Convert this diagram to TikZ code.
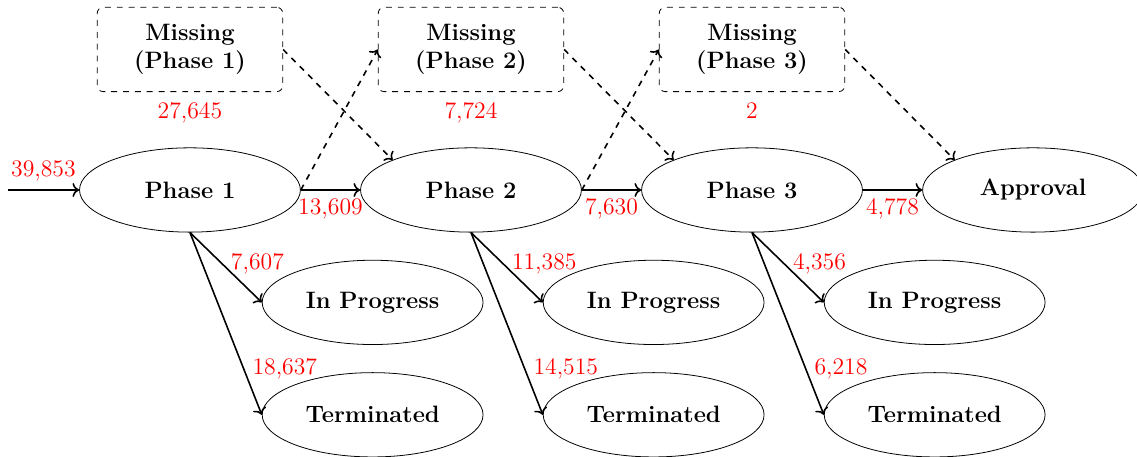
\documentclass[tikz,border=0pt,12pt]{standalone}
\usepackage{amsmath, amssymb}
\usetikzlibrary{arrows.meta, positioning, shapes}

\begin{document}
\begin{tikzpicture}[node distance=5cm,
    phase/.style={ellipse, draw, minimum width=3.93cm, minimum height=1.5cm, font=\bfseries},
    missing/.style={rectangle, draw, dashed, rounded corners=3pt, minimum width=3.3cm, minimum height=1.5cm, align=center, font=\bfseries},
    num/.style={text=red}]

    \useasboundingbox (-3.38,-4.75) rectangle (16.85,3.38);

    % Nodes representing the phases of the trials
    \node (p1) [phase] {Phase 1};
    \node (p2) [phase, right of=p1] {Phase 2};
    \node (p3) [phase, right of=p2] {Phase 3};
    \node (appr) [phase, right of=p3] {Approval};

    % Nodes representing trials with missing data
    \node (m1) [missing, above of=p1, node distance=2.5cm, label={[num, label distance=1pt]below:{27,645}}] {Missing\\(Phase 1)};
    \node (m2) [missing, above of=p2, node distance=2.5cm, label={[num, label distance=1pt]below:{7,724}}] {Missing\\(Phase 2)};
    \node (m3) [missing, above of=p3, node distance=2.5cm, label={[num, label distance=1pt]below:{2}}] {Missing\\(Phase 3)};

    % Nodes representing the outcome of each phase
    \node (ip1) [phase, below of=p1, node distance=2cm, xshift=3.25cm] {In Progress};
    \node (tm1) [phase, below of=p1, node distance=4cm, xshift=3.25cm] {Terminated};
    \node (ip2) [phase, below of=p2, node distance=2cm, xshift=3.25cm] {In Progress};
    \node (tm2) [phase, below of=p2, node distance=4cm, xshift=3.25cm] {Terminated};
    \node (ip3) [phase, below of=p3, node distance=2cm, xshift=3.25cm] {In Progress};
    \node (tm3) [phase, below of=p3, node distance=4cm, xshift=3.25cm] {Terminated};

    % Arrows from one phase to the next
    \coordinate [left=1.27cm of p1] (start);
    \draw[->, thick] (start) -- node[midway, above, num] {39,853} (p1);
    \draw[->, thick] (p1) -- node[midway, below, num] {13,609} (p2);
    \draw[->, thick] (p2) -- node[midway, below, num] {7,630} (p3);
    \draw[->, thick] (p3) -- node[midway, below, num] {4,778} (appr);

    % Arrows through the missing data
    \draw[->, thick, dashed] (p1.east) -- (m2.west);
    \draw[->, thick, dashed] (p2.east) -- (m3.west);
    \draw[->, thick, dashed] (m1.east) -- (p2.north west);
    \draw[->, thick, dashed] (m2.east) -- (p3.north west);
    \draw[->, thick, dashed] (m3.east) -- (appr.north west);

    % Arrows for trials in progress and terminated
    \draw[->, thick] (p1.south) -- node[pos=0.45, right, num] {7,607} (ip1.west);
    \draw[->, thick] (p1.south) -- node[near end, right, num] {18,637} (tm1.west);
    \draw[->, thick] (p2.south) -- node[pos=0.45, right, num] {11,385} (ip2.west);
    \draw[->, thick] (p2.south) -- node[near end, right, num] {14,515} (tm2.west);
    \draw[->, thick] (p3.south) -- node[pos=0.45, right, num] {4,356} (ip3.west);
    \draw[->, thick] (p3.south) -- node[near end, right, num] {6,218} (tm3.west);
\end{tikzpicture}
\end{document}
